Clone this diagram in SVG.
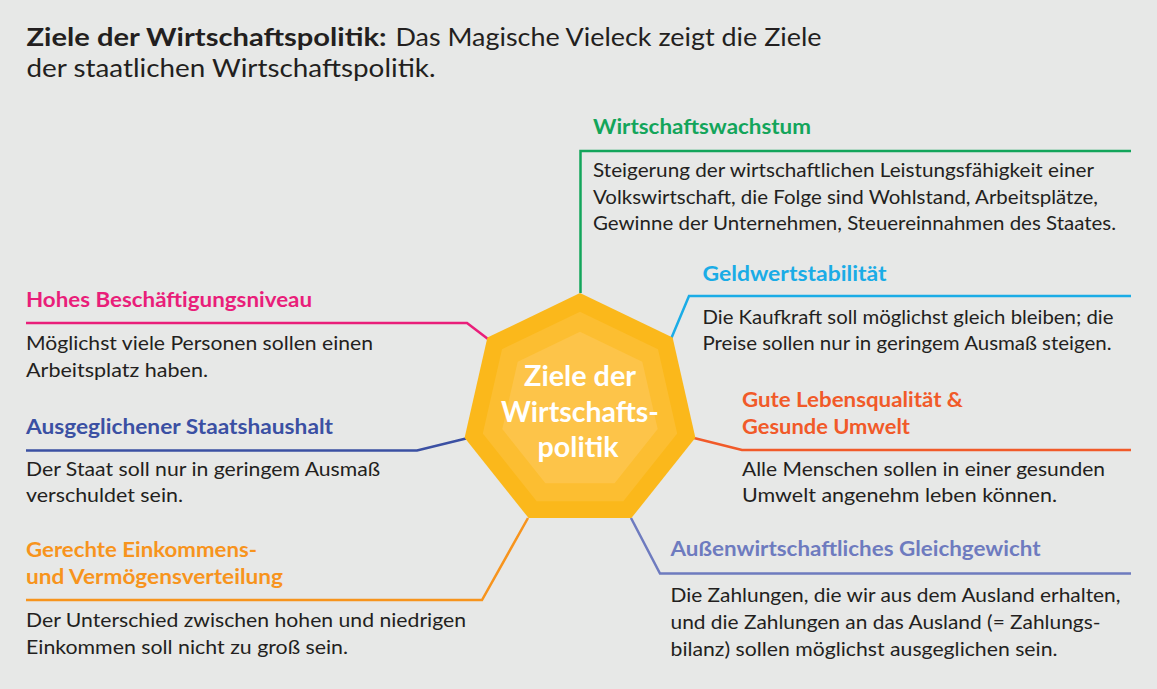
<svg xmlns="http://www.w3.org/2000/svg" width="1157" height="689" viewBox="0 0 1157 689">
<style>
text{font-family:Lato,"Liberation Sans",sans-serif}
.t{font-size:24.5px;fill:#231F20}
.h{font-size:20px;font-weight:bold}
.b{font-size:20px;fill:#231F20}
.c{font-size:28.5px;font-weight:bold;fill:#fff;text-anchor:middle}
.ln{fill:none;stroke-width:2.5}
</style>
<rect width="1157" height="689" fill="#E7E8E7"/>
<g id="title">
<text class="t" y="46"><tspan x="26.5" font-weight="bold" textLength="360" lengthAdjust="spacingAndGlyphs">Ziele der Wirtschaftspolitik:</tspan><tspan x="395.5" textLength="426" lengthAdjust="spacingAndGlyphs">Das Magische Vieleck zeigt die Ziele</tspan></text>
<text class="t" x="26.5" y="77" textLength="409" lengthAdjust="spacingAndGlyphs">der staatlichen Wirtschaftspolitik.</text>
</g>
<g id="connectors">
<path class="ln" stroke="#13A55B" d="M580.5,293 V151 H1131"/>
<path class="ln" stroke="#1AACE6" d="M671,339 L689,296 H1131"/>
<path class="ln" stroke="#F15A29" d="M694,438 L742,450 H1131"/>
<path class="ln" stroke="#6E7BBF" d="M631,518 L660,573.5 H1131"/>
<path class="ln" stroke="#F7941D" d="M528,518 L482,600 H26"/>
<path class="ln" stroke="#3B50A3" d="M466,438.5 L417,450.5 H26"/>
<path class="ln" stroke="#E91E7A" d="M488,339 L467,323 H26"/>
</g>
<g id="center">
<polygon fill="#FBB81B" points="580,293 672.6,337.6 695.4,437.8 631.4,518.1 528.6,518.1 464.6,437.8 487.4,337.6"/>
<polygon fill="#FCBE31" points="580,311.7 658,349.2 677.2,433.6 623.3,501.2 536.7,501.2 482.8,433.6 502,349.2"/>
<polygon fill="#FDC449" points="580,331.7 642.3,361.7 657.7,429.1 614.6,483.2 545.4,483.2 502.3,429.1 517.7,361.7"/>
<text class="c" x="580" y="386" textLength="112" lengthAdjust="spacingAndGlyphs">Ziele der</text>
<text class="c" x="580" y="421.5" textLength="158" lengthAdjust="spacingAndGlyphs">Wirtschafts-</text>
<text class="c" x="578" y="456.5" textLength="81" lengthAdjust="spacingAndGlyphs">politik</text>
</g>
<g id="wachstum">
<text class="h" fill="#13A55B" x="593" y="134" textLength="218" lengthAdjust="spacingAndGlyphs">Wirtschaftswachstum</text>
<text class="b" x="593" y="177" textLength="501" lengthAdjust="spacingAndGlyphs">Steigerung der wirtschaftlichen Leistungsfähigkeit einer</text>
<text class="b" x="593" y="203.5" textLength="505" lengthAdjust="spacingAndGlyphs">Volkswirtschaft, die Folge sind Wohlstand, Arbeitsplätze,</text>
<text class="b" x="593" y="230" textLength="523" lengthAdjust="spacingAndGlyphs">Gewinne der Unternehmen, Steuereinnahmen des Staates.</text>
</g>
<g id="geldwert">
<text class="h" fill="#1AACE6" x="702.5" y="280.5" textLength="184" lengthAdjust="spacingAndGlyphs">Geldwertstabilität</text>
<text class="b" x="702.5" y="323.5" textLength="411" lengthAdjust="spacingAndGlyphs">Die Kaufkraft soll möglichst gleich bleiben; die</text>
<text class="b" x="702.5" y="350" textLength="409" lengthAdjust="spacingAndGlyphs">Preise sollen nur in geringem Ausmaß steigen.</text>
</g>
<g id="lebensqualitaet">
<text class="h" fill="#F15A29" x="742" y="407" textLength="221" lengthAdjust="spacingAndGlyphs">Gute Lebensqualität &amp;</text>
<text class="h" fill="#F15A29" x="742" y="434" textLength="168" lengthAdjust="spacingAndGlyphs">Gesunde Umwelt</text>
<text class="b" x="742" y="476" textLength="363" lengthAdjust="spacingAndGlyphs">Alle Menschen sollen in einer gesunden</text>
<text class="b" x="742" y="502" textLength="315" lengthAdjust="spacingAndGlyphs">Umwelt angenehm leben können.</text>
</g>
<g id="aussenwirtschaft">
<text class="h" fill="#6E7BBF" x="670.5" y="556" textLength="370" lengthAdjust="spacingAndGlyphs">Außenwirtschaftliches Gleichgewicht</text>
<text class="b" x="670.5" y="602" textLength="450" lengthAdjust="spacingAndGlyphs">Die Zahlungen, die wir aus dem Ausland erhalten,</text>
<text class="b" x="670.5" y="629" textLength="430" lengthAdjust="spacingAndGlyphs">und die Zahlungen an das Ausland (= Zahlungs-</text>
<text class="b" x="670.5" y="656" textLength="387" lengthAdjust="spacingAndGlyphs">bilanz) sollen möglichst ausgeglichen sein.</text>
</g>
<g id="beschaeftigung">
<text class="h" fill="#E91E7A" x="26" y="307" textLength="286" lengthAdjust="spacingAndGlyphs">Hohes Beschäftigungsniveau</text>
<text class="b" x="26" y="350" textLength="347" lengthAdjust="spacingAndGlyphs">Möglichst viele Personen sollen einen</text>
<text class="b" x="26" y="377" textLength="182" lengthAdjust="spacingAndGlyphs">Arbeitsplatz haben.</text>
</g>
<g id="staatshaushalt">
<text class="h" fill="#3B50A3" x="26" y="433.5" textLength="307" lengthAdjust="spacingAndGlyphs">Ausgeglichener Staatshaushalt</text>
<text class="b" x="26" y="475.5" textLength="354" lengthAdjust="spacingAndGlyphs">Der Staat soll nur in geringem Ausmaß</text>
<text class="b" x="26" y="502" textLength="157" lengthAdjust="spacingAndGlyphs">verschuldet sein.</text>
</g>
<g id="verteilung">
<text class="h" fill="#F7941D" x="26" y="557" textLength="231" lengthAdjust="spacingAndGlyphs">Gerechte Einkommens-</text>
<text class="h" fill="#F7941D" x="26" y="584" textLength="257" lengthAdjust="spacingAndGlyphs">und Vermögensverteilung</text>
<text class="b" x="26" y="627" textLength="440" lengthAdjust="spacingAndGlyphs">Der Unterschied zwischen hohen und niedrigen</text>
<text class="b" x="26" y="654" textLength="322" lengthAdjust="spacingAndGlyphs">Einkommen soll nicht zu groß sein.</text>
</g>
</svg>
